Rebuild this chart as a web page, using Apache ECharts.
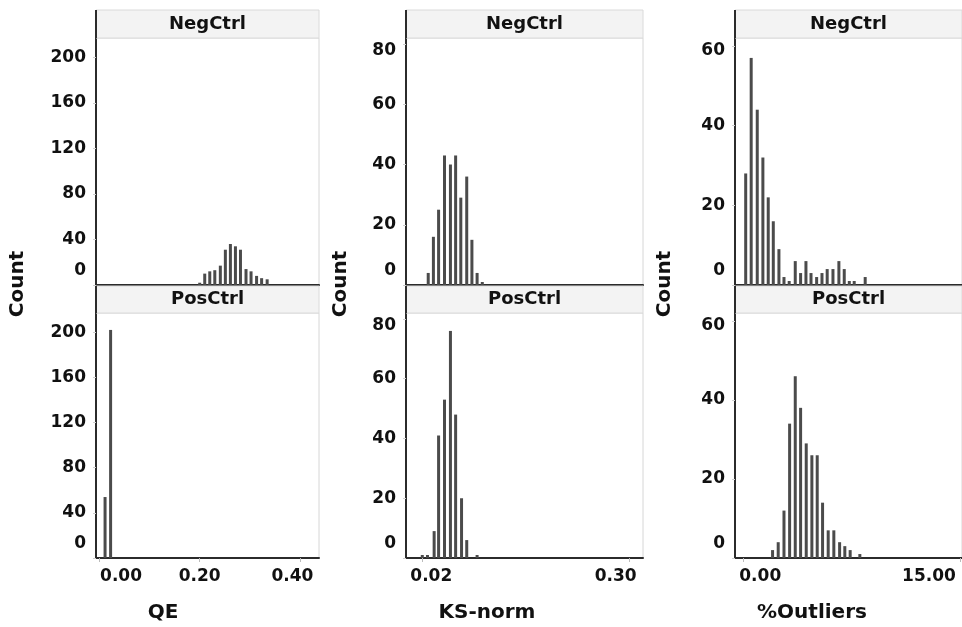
<!DOCTYPE html>
<html><head><meta charset="utf-8">
<script src="https://cdn.jsdelivr.net/npm/echarts@6/dist/echarts.min.js"></script>
<style>html,body{margin:0;padding:0;background:#fff}#c{width:962px;height:627px}</style>
</head><body><div id="c"></div>
<script>
// ---------------- data ----------------
const panelNames = ['NegCtrl', 'PosCtrl'];
const measureNames = ['QE', 'KS-norm', '%Outliers'];
const yTitle = 'Count';

const qeNegX = [0.200,0.210,0.220,0.230,0.241,0.251,0.261,0.271,0.281,0.292,0.302,0.313,0.323,0.334];
const qeNegY = [2,10,12,13,17,31,36,34,31,14,12,8,6,5];
const qePosX = [0.012,0.023];
const qePosY = [54,202];

const ksNegX = [0.028,0.035,0.042,0.050,0.058,0.065,0.072,0.080,0.087,0.094,0.101];
const ksNegY = [4,16,25,43,40,43,29,36,15,4,1];
const ksPosX = [0.020,0.027,0.036,0.042,0.050,0.058,0.065,0.073,0.080,0.094];
const ksPosY = [1,1,9,41,53,76,48,20,6,1];

const outNegX = [0.17,0.55,0.97,1.36,1.73,2.08,2.47,2.82,3.18,3.60,3.97,4.34,4.69,5.08,5.45,5.81,6.21,6.62,6.99,7.34,7.68,8.44];
const outNegY = [28,57,44,32,22,16,9,2,1,6,3,6,3,2,3,4,4,6,4,1,1,2];
const outPosX = [2.03,2.42,2.82,3.21,3.60,3.97,4.36,4.75,5.12,5.49,5.88,6.27,6.67,7.03,7.40,8.07];
const outPosY = [2,4,12,34,46,38,29,26,26,14,7,7,4,3,2,1];

const qeXTicks = [0, 0.2, 0.4];   const qeXLabels = ['0.00', '0.20', '0.40'];
const ksXTicks = [0.02, 0.30];    const ksXLabels = ['0.02', '0.30'];
const outXTicks = [0, 15];        const outXLabels = ['0.00', '15.00'];
const qeYTicks = [0, 40, 80, 120, 160, 200];
const ksYTicks = [0, 20, 40, 60, 80];
const outYTicks = [0, 20, 40, 60];

const qeXRange = [-0.006, 0.437];
const ksXRange = [-0.002, 0.318];
const outXRange = [-0.57, 15.14];
const qeYMax = 217, ksYMax = 82, outYMax = 62;

// ---------------- layout / style ----------------
const FONT = '"DejaVu Sans", "Liberation Sans", sans-serif';
const TXT = '#111';
const AX = '#2b2b2b';
const colL = [96, 406, 735];
const colR = [319, 643, 962];
const rowT = [38, 313];
const rowB = [285, 558];
const stripT = [10, 285];
const stripH = 28;
const xNameCenter = [163, 487, 812];
const yNameX = [18, 341, 665];

const cols = [
  { xr: qeXRange, xt: qeXTicks, xl: qeXLabels, yt: qeYTicks, ym: qeYMax, data: [[qeNegX, qeNegY], [qePosX, qePosY]] },
  { xr: ksXRange, xt: ksXTicks, xl: ksXLabels, yt: ksYTicks, ym: ksYMax, data: [[ksNegX, ksNegY], [ksPosX, ksPosY]] },
  { xr: outXRange, xt: outXTicks, xl: outXLabels, yt: outYTicks, ym: outYMax, data: [[outNegX, outNegY], [outPosX, outPosY]] }
];

const mctx = document.createElement('canvas').getContext('2d');
mctx.font = 'bold 17px ' + FONT;
const lblStyle = { fontFamily: FONT, fontWeight: 'bold', fontSize: 17, color: TXT };

const grids = [], xAxes = [], yAxes = [], series = [], graphics = [];

cols.forEach((col, c) => {
  const W = colR[c] - colL[c];
  // x label shifts (keep labels inside the panel)
  const xRich = {}, xMap = {};
  col.xt.forEach((t, k) => {
    const lab = col.xl[k];
    const px = (t - col.xr[0]) / (col.xr[1] - col.xr[0]) * W;
    const tw = mctx.measureText(lab).width;
    let cx = px;
    if (cx - tw / 2 < 4) cx = 4 + tw / 2;
    if (cx + tw / 2 > W - 6) cx = W - 6 - tw / 2;
    const s = Math.round(cx - px);
    const key = 'x' + k;
    xRich[key] = Object.assign({}, lblStyle, { padding: s >= 0 ? [0, 0, 0, 2 * s] : [0, -2 * s, 0, 0] });
    xMap[t.toFixed(6)] = '{' + key + '|' + lab + '}';
  });

  for (let r = 0; r < 2; r++) {
    const i = grids.length;
    const H = rowB[r] - rowT[r];
    grids.push({ left: colL[c], top: rowT[r], width: W, height: H, show: true,
      borderColor: '#d6d6d6', borderWidth: 1, backgroundColor: '#fff' });

    // y label shifts
    const yRich = {}, yMap = {};
    col.yt.forEach((v, k) => {
      const py = (1 - v / col.ym) * H;
      let d = 0;
      if (py < 13) d = 13 - py;
      if (py > H - 14) d = (H - 14) - py;
      d = Math.round(d);
      const key = 'y' + k;
      yRich[key] = Object.assign({}, lblStyle, { padding: d >= 0 ? [2 * d, 0, 0, 0] : [0, 0, -2 * d, 0] });
      yMap[v] = '{' + key + '|' + v + '}';
    });

    xAxes.push({
      gridIndex: i, type: 'value', min: col.xr[0], max: col.xr[1],
      axisLine: { show: true, onZero: false, lineStyle: { color: AX, width: 2 } },
      axisTick: r === 1 ? { show: true, customValues: col.xt, length: 4, lineStyle: { color: '#bbb' } } : { show: false },
      axisLabel: r === 1 ? Object.assign({}, lblStyle, {
        show: true, customValues: col.xt, margin: 10, rich: xRich,
        formatter: v => xMap[Number(v).toFixed(6)] || ''
      }) : { show: false },
      splitLine: { show: false },
      name: r === 1 ? measureNames[c] : '',
      nameLocation: 'middle', nameGap: 45,
      nameTextStyle: { fontFamily: FONT, fontWeight: 'bold', fontSize: 20, color: TXT,
        padding: (() => { const s = xNameCenter[c] - (colL[c] + W / 2); return s >= 0 ? [0, 0, 0, 2 * s] : [0, -2 * s, 0, 0]; })() }
    });
    yAxes.push({
      gridIndex: i, type: 'value', min: 0, max: col.ym,
      axisLine: { show: true, onZero: false, lineStyle: { color: AX, width: 2 } },
      axisTick: { show: true, customValues: col.yt, length: 3, lineStyle: { color: '#cfcfcf' } },
      axisLabel: Object.assign({}, lblStyle, {
        customValues: col.yt, margin: 10, rich: yRich,
        formatter: v => yMap[v] || ''
      }),
      splitLine: { show: false }
    });
    const [xs, ys] = col.data[r];
    series.push({
      type: 'bar', xAxisIndex: i, yAxisIndex: i, barWidth: 3, silent: true,
      data: xs.map((x, k) => [x, ys[k]]),
      itemStyle: { color: '#4b4b4b' }
    });

    // strip header
    const sy = stripT[r] + (r === 1 ? 1 : 0);
    const sh = stripH - (r === 1 ? 1 : 0);
    graphics.push({ type: 'rect', z: 5, shape: { x: colL[c], y: sy, width: W, height: sh },
      style: { fill: '#f3f3f3', stroke: '#dadada', lineWidth: 1 } });
    graphics.push({ type: 'line', z: 6, shape: { x1: colL[c], y1: sy, x2: colL[c], y2: sy + sh },
      style: { stroke: AX, lineWidth: 2 } });
    graphics.push({ type: 'text', z: 7, x: colL[c] + W / 2, y: stripT[r] + stripH / 2,
      style: { text: panelNames[r], align: 'center', verticalAlign: 'middle',
        font: 'bold 18px ' + FONT, fill: TXT } });
  }
  graphics.push({ type: 'text', z: 7, x: yNameX[c], y: (stripT[0] + rowB[1]) / 2, rotation: Math.PI / 2,
    style: { text: yTitle, align: 'center', verticalAlign: 'middle', font: 'bold 20px ' + FONT, fill: TXT } });
});

const chart = echarts.init(document.getElementById('c'), null, { renderer: 'canvas' });
chart.setOption({
  animation: false,
  backgroundColor: '#fff',
  grid: grids, xAxis: xAxes, yAxis: yAxes, series: series,
  graphic: { elements: graphics }
});
</script>
</body></html>
